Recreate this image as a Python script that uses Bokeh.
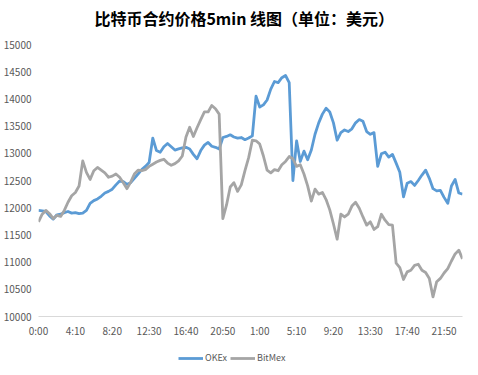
from bokeh.plotting import figure
from bokeh.layouts import column
from bokeh.models import Range1d, FixedTicker, Legend, LegendItem, Label
from bokeh.embed import file_html
from bokeh.resources import INLINE

title_text = "比特币合约价格5min 线图（单位：美元）"
series_names = ["OKEx", "BitMex"]
series_colors = ["#5B9BD5", "#A5A5A5"]
x_labels = ["0:00", "4:10", "8:20", "12:30", "16:40", "20:50",
            "1:00", "5:10", "9:20", "13:30", "17:40", "21:50"]
y_ticks = [10000, 10500, 11000, 11500, 12000, 12500, 13000, 13500, 14000, 14500, 15000]

okex = [11950, 11940, 11930, 11850, 11790, 11870, 11880, 11910, 11930, 11900,
        11910, 11890, 11900, 11950, 12080, 12130, 12160, 12210, 12270, 12300,
        12340, 12420, 12490, 12480, 12430, 12460, 12540, 12620, 12700, 12760,
        12830, 13280, 13050, 13020, 13120, 13180, 13120, 13060, 13080, 13100,
        13110, 13080, 12980, 12900, 13050, 13150, 13200, 13130, 13110, 13080,
        13290, 13310, 13340, 13300, 13280, 13290, 13250, 13280, 13320, 14050,
        13850, 13890, 13980, 14180, 14320, 14300, 14390, 14430, 14300, 12500,
        13230, 12850, 13040, 12880, 13060, 13350, 13560, 13720, 13830, 13760,
        13560, 13240, 13380, 13430, 13400, 13450, 13560, 13620, 13590, 13400,
        13350, 13380, 12760, 12990, 13020, 12930, 12980, 12820, 12650, 12200,
        12450, 12480, 12410, 12500, 12600, 12690, 12540, 12350, 12310, 12320,
        12190, 12080, 12400, 12520, 12270, 12250]

bitmex = [11740, 11880, 11950, 11890, 11800, 11860, 11840, 11950, 12100, 12220,
          12280, 12400, 12860, 12650, 12520, 12680, 12740, 12690, 12640, 12560,
          12580, 12620, 12560, 12460, 12350, 12470, 12620, 12690, 12680, 12700,
          12760, 12800, 12840, 12870, 12890, 12820, 12780, 12810, 12860, 12950,
          13300, 13480, 13310, 13470, 13620, 13760, 13760, 13880, 13820, 13720,
          11800, 12050, 12380, 12460, 12300, 12420, 12680, 12920, 13240, 13230,
          13170, 12950, 12690, 12640, 12700, 12680, 12790, 12850, 12940, 12900,
          12760, 12790, 12620, 12400, 12120, 12340, 12250, 12280, 12150, 11960,
          11700, 11420, 11880, 11830, 11880, 12030, 12100, 11990, 11830, 11680,
          11740, 11600, 11650, 11880, 11770, 11690, 11680, 10980, 10900, 10680,
          10820, 10850, 10940, 10960, 10850, 10810, 10700, 10360, 10640, 10700,
          10800, 10880, 11020, 11150, 11220, 11060]

x = list(range(len(okex)))
label_step = 10
x_ticks = [i * label_step for i in range(len(x_labels))]
series_values = [okex, bitmex]

FONT = "Noto Sans CJK SC"
TXT = "#595959"
W = 474


def strip(height):
    f = figure(width=W, height=height, output_backend="svg", toolbar_location=None,
               x_range=Range1d(0, W), y_range=Range1d(0, height),
               x_axis_location=None, y_axis_location=None,
               min_border_left=0, min_border_right=0, min_border_top=0, min_border_bottom=0)
    f.outline_line_color = None
    f.grid.visible = False
    f.border_fill_color = "white"
    f.background_fill_color = "white"
    return f


# title strip (pixel-unit ranges)
hd = strip(37)
hd.add_layout(Label(x=230, y=19.5, text=title_text, text_align="center",
                    text_baseline="middle", text_font=FONT, text_font_size="16px",
                    text_font_style="bold", text_color="#000000"))

# main chart
p = figure(width=W, height=303, output_backend="svg", toolbar_location=None,
           x_range=Range1d(0, len(okex) - 1), y_range=Range1d(10000, 15000),
           min_border_left=37, min_border_right=12, min_border_top=7, min_border_bottom=20)
p.outline_line_color = None
p.grid.visible = False
p.background_fill_color = "white"
p.border_fill_color = "white"

for vals, col in zip(series_values, series_colors):
    p.line(x, vals, line_width=2.8, line_color=col, line_join="round")

p.xaxis.ticker = FixedTicker(ticks=x_ticks)
p.xaxis.major_label_overrides = {t: l for t, l in zip(x_ticks, x_labels)}
p.xaxis.axis_line_color = "#D9D9D9"
p.xaxis.axis_line_width = 1
p.xaxis.major_tick_out = 0
p.xaxis.major_tick_in = 0
p.xaxis.minor_tick_line_color = None
p.xaxis.major_label_standoff = 6
p.xaxis.major_label_text_font = FONT
p.xaxis.major_label_text_font_size = "10px"
p.xaxis.major_label_text_color = TXT

p.yaxis.ticker = FixedTicker(ticks=y_ticks)
p.yaxis.axis_line_color = None
p.yaxis.major_tick_out = 0
p.yaxis.major_tick_in = 0
p.yaxis.minor_tick_line_color = None
p.yaxis.major_label_standoff = 7
p.yaxis.major_label_text_font = FONT
p.yaxis.major_label_text_font_size = "10px"
p.yaxis.major_label_text_color = TXT

# legend strip below the chart (series lie outside its view; only the key shows)
lg = figure(width=W, height=30, output_backend="svg", toolbar_location=None,
            x_range=Range1d(0, 1), y_range=Range1d(0, 1),
            x_axis_location=None, y_axis_location=None,
            min_border_left=0, min_border_right=0, min_border_top=0, min_border_bottom=0)
lg.outline_line_color = None
lg.grid.visible = False
lg.border_fill_color = "white"
lg.background_fill_color = "white"
items = []
for name, vals, col in zip(series_names, series_values, series_colors):
    r = lg.line(x, vals, line_width=2.8, line_color=col)
    items.append(LegendItem(label=name, renderers=[r]))

legend = Legend(items=items, orientation="horizontal", location=(140, 6),
                border_line_color=None, background_fill_alpha=0,
                padding=0, margin=0, spacing=3, label_standoff=2,
                glyph_width=25, glyph_height=10, label_height=10,
                label_text_font=FONT, label_text_font_size="9px",
                label_text_color=TXT)
lg.add_layout(legend)

layout = column(hd, p, lg, spacing=0)
open("out.html", "w").write(file_html(layout, INLINE))
